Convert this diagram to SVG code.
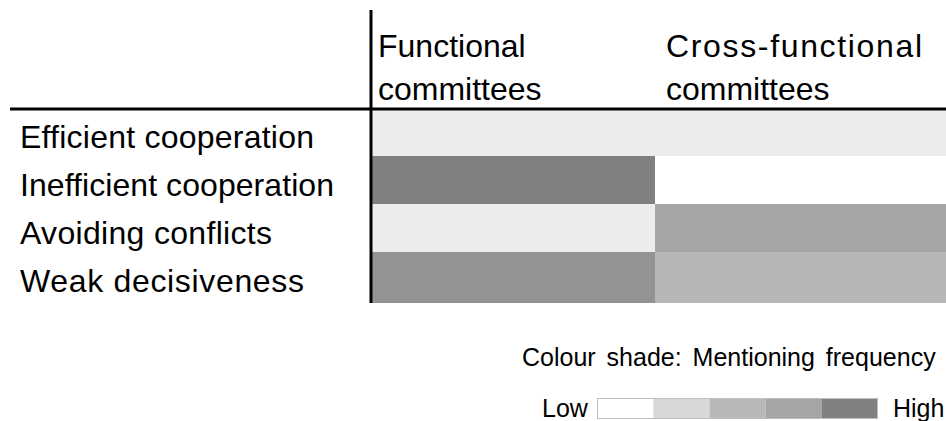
<svg xmlns="http://www.w3.org/2000/svg" width="946" height="421" viewBox="0 0 946 421">
  <style>
    text { font-family: "Liberation Sans", Arial, sans-serif; fill: #000; }
    .lbl { font-size: 32px; }
    .leg { font-size: 25px; word-spacing: 4px; }
    .axis { stroke: #000; stroke-width: 3; fill: none; }
    .seg { stroke: none; }
  </style>

  <!-- Column headers -->
  <g id="col-functional">
    <text class="lbl" x="378" y="57">Functional</text>
    <text class="lbl" x="378" y="100">committees</text>
  </g>
  <g id="col-cross">
    <text class="lbl" x="666" y="57" textLength="256" lengthAdjust="spacing">Cross-functional</text>
    <text class="lbl" x="666" y="100">committees</text>
  </g>

  <!-- Row: Efficient cooperation -->
  <g id="row-efficient">
    <text class="lbl" x="20" y="148" textLength="294" lengthAdjust="spacing">Efficient cooperation</text>
    <rect x="372" y="110" width="574" height="46" fill="#ececec"/>
  </g>
  <!-- Row: Inefficient cooperation -->
  <g id="row-inefficient">
    <text class="lbl" x="20" y="196" textLength="314" lengthAdjust="spacing">Inefficient cooperation</text>
    <rect x="372" y="156" width="283" height="48" fill="#808080"/>
    <rect x="655" y="156" width="291" height="48" fill="#ffffff"/>
  </g>
  <!-- Row: Avoiding conflicts -->
  <g id="row-avoiding">
    <text class="lbl" x="20" y="244" textLength="252" lengthAdjust="spacing">Avoiding conflicts</text>
    <rect x="372" y="204" width="283" height="48" fill="#ececec"/>
    <rect x="655" y="204" width="291" height="48" fill="#a5a5a5"/>
  </g>
  <!-- Row: Weak decisiveness -->
  <g id="row-weak">
    <text class="lbl" x="20" y="292" textLength="284" lengthAdjust="spacing">Weak decisiveness</text>
    <rect x="372" y="252" width="283" height="51" fill="#939393"/>
    <rect x="655" y="252" width="291" height="51" fill="#b6b6b6"/>
  </g>

  <!-- Table rules -->
  <g id="connectors">
    <line class="axis" x1="371" y1="10" x2="371" y2="303"/>
    <line class="axis" x1="10" y1="109" x2="946" y2="109"/>
  </g>

  <!-- Legend -->
  <g id="legend">
    <text class="leg" x="522" y="366">Colour shade: Mentioning frequency</text>
    <text class="leg" x="542" y="417">Low</text>
    <rect class="seg" x="597.5" y="398.5" width="56" height="20" fill="#ffffff"/>
    <rect class="seg" x="653.5" y="398.5" width="56" height="20" fill="#d8d8d8"/>
    <rect class="seg" x="709.5" y="398.5" width="56" height="20" fill="#b8b8b8"/>
    <rect class="seg" x="765.5" y="398.5" width="56" height="20" fill="#a5a5a5"/>
    <rect class="seg" x="821.5" y="398.5" width="56" height="20" fill="#808080"/>
    <rect x="597.5" y="398.5" width="280" height="20" fill="none" stroke="#bfbfbf" stroke-width="1"/>
    <text class="leg" x="893" y="417">High</text>
  </g>
</svg>
